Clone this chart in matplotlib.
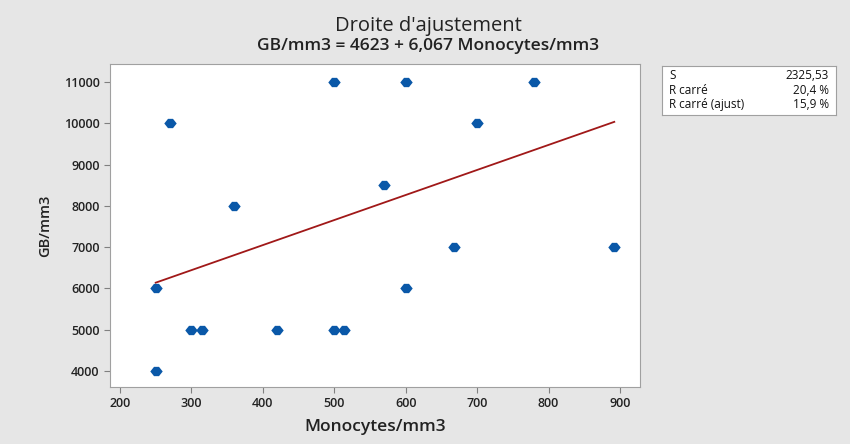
import numpy as np
import matplotlib.pyplot as plt
from matplotlib.path import Path

plt.rcParams['font.family'] = ['Open Sans', 'DejaVu Sans']

# data
monocytes = [250, 250, 270, 300, 315, 360, 420, 500, 500, 513, 570, 600, 600, 668, 700, 780, 892]
gb = [4000, 6000, 10000, 5000, 5000, 8000, 5000, 11000, 5000, 5000, 8500, 11000, 6000, 7000, 10000, 11000, 7000]

# fitted line as given in the chart
intercept = 4623
slope = 6.067

stat_names = ['S', 'R carré', 'R carré (ajust)']
stat_values = ['2325,53', '20,4 %', '15,9 %']

bg = '#e6e6e6'
fig = plt.figure(figsize=(8.5, 4.44), dpi=100, facecolor=bg)
ax = fig.add_axes([110 / 850, 1 - 387 / 444, 530 / 850, 323 / 444])
ax.set_facecolor('white')

# blunt, wide diamond like the Minitab symbol
verts = [(-1, 0), (-0.4, 0.75), (0.4, 0.75), (1, 0), (0.4, -0.75), (-0.4, -0.75), (-1, 0)]
diamond = Path(verts, [Path.MOVETO] + [Path.LINETO] * 5 + [Path.CLOSEPOLY])

ax.scatter(monocytes, gb, marker=diamond, s=80, color='#0a58a8', zorder=3, linewidths=0)
xs = np.array([min(monocytes), max(monocytes)])
ax.plot(xs, intercept + slope * xs, color='#a01818', lw=1.3, zorder=2)

ax.set_xlim(186, 928)
ax.set_ylim(3613, 11436)
ax.set_xticks([200, 300, 400, 500, 600, 700, 800, 900])
ax.set_yticks([4000, 5000, 6000, 7000, 8000, 9000, 10000, 11000])
for s in ax.spines.values():
    s.set_color('#a0a0a0')
ax.tick_params(direction='out', length=4, color='#808080', labelsize=9, labelcolor='#222222')
for lab in ax.get_xticklabels() + ax.get_yticklabels():
    lab.set_fontweight('semibold')

ax.set_xlabel('Monocytes/mm3', fontsize=12.5, fontweight='semibold', color='#222222', labelpad=6)
ax.set_ylabel('GB/mm3', fontsize=10.5, fontweight='semibold', color='#222222', labelpad=8)

fig.text(428 / 850, 1 - 26 / 444, "Droite d'ajustement", ha='center', va='center',
         fontsize=14.5, color='#222222')
fig.text(428 / 850, 1 - 46 / 444, 'GB/mm3 = 4623 + 6,067 Monocytes/mm3', ha='center', va='center',
         fontsize=12.5, fontweight='semibold', color='#222222')

# stats box
bx = fig.add_axes([662 / 850, 1 - 115 / 444, 174 / 850, 49 / 444])
bx.set_facecolor('white')
bx.set_xticks([])
bx.set_yticks([])
for s in bx.spines.values():
    s.set_color('#a0a0a0')
bx.set_xlim(0, 1)
bx.set_ylim(0, 1)
for i, (n, v) in enumerate(zip(stat_names, stat_values)):
    y = 0.80 - i * 0.29
    bx.text(0.04, y, n, va='center', ha='left', fontsize=8.5, color='#111111')
    bx.text(0.96, y, v, va='center', ha='right', fontsize=8.5, color='#111111')

fig.savefig('out.png', dpi=100, facecolor=bg)
